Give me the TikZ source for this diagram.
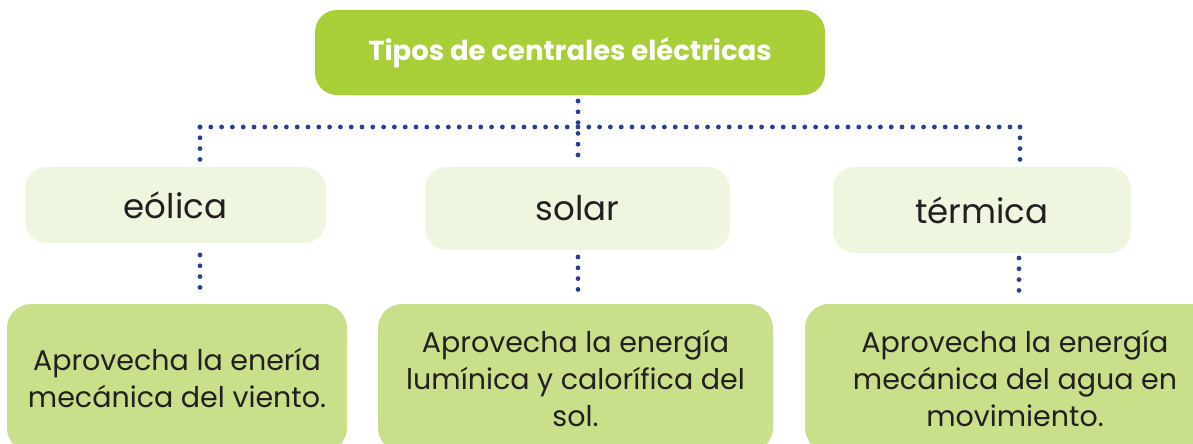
\documentclass[tikz,border=0pt]{standalone}
\usepackage{fontspec}
\setmainfont{Poppins}
\definecolor{topgreen}{HTML}{A9CF38}
\definecolor{midgreen}{HTML}{EEF6DF}
\definecolor{botgreen}{HTML}{C9DF8A}
\definecolor{dotblue}{HTML}{2B3E8F}
\definecolor{txt}{HTML}{231F20}
\begin{document}
\begin{tikzpicture}[x=1pt,y=-1pt,
  dotline/.style={draw=dotblue, line width=4.8pt, line cap=round, dash pattern=on 0pt off 10.8pt},
  titlebox/.style={fill=topgreen, rounded corners=22pt, inner sep=0pt, text=white, font=\fontsize{27.5}{32}\selectfont\bfseries},
  midbox/.style={fill=midgreen, rounded corners=22pt, inner sep=0pt, text=txt, font=\fontsize{34}{38}\selectfont},
  botbox/.style={fill=botgreen, rounded corners=24pt, inner sep=0pt, text=txt, align=center, font=\fontsize{28.5}{37}\selectfont}]
\useasboundingbox (0,0) rectangle (1193,444);
\clip (0,0) rectangle (1193,444);
% connector coordinates
\coordinate (c0) at (578,101);
\coordinate (hl) at (578,127);
\coordinate (hlL) at (200,127);
\coordinate (hlR) at (1020,127);
\coordinate (eA) at (200,165);
\coordinate (sA) at (578,165);
\coordinate (tA) at (1020,165);
\coordinate (eB) at (200,255);
\coordinate (eC) at (200,298);
\coordinate (sB) at (578,257);
\coordinate (sC) at (578,300);
\coordinate (tB) at (1019,258);
\coordinate (tC) at (1019,301);
\draw[dotline] (c0) -- (sA);
\draw[dotline] (hlL) -- (hlR);
\draw[dotline] (hlL) -- (eA);
\draw[dotline] (hlR) -- (tA);
\draw[dotline] (eB) -- (eC);
\draw[dotline] (sB) -- (sC);
\draw[dotline] (tB) -- (tC);
% nodes
\node[titlebox, minimum width=510pt, minimum height=85pt] (top) at (570,52.5) {Tipos de centrales eléctricas};
\node[midbox, minimum width=301pt, minimum height=76pt] (eolica) at (175.5,205) {eólica};
\node[midbox, minimum width=305pt, minimum height=83pt] (solar) at (577.5,208.5) {solar};
\node[midbox, minimum width=298pt, minimum height=86pt] (termica) at (982,210) {térmica};
\node[botbox, minimum width=340pt, minimum height=148pt] (b1) at (177,378) {Aprovecha la enería\\mecánica del viento.};
\node[botbox, minimum width=395pt, minimum height=148pt] (b2) at (575.5,378) {Aprovecha la energía\\lumínica y calorífica del\\sol.};
\node[botbox, minimum width=420pt, minimum height=148pt] (b3) at (1015,378) {Aprovecha la energía\\mecánica del agua en\\movimiento.};
\end{tikzpicture}
\end{document}
